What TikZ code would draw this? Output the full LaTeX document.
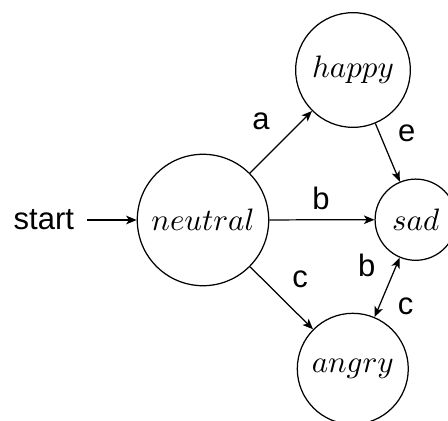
\documentclass[tikz,border=0pt]{standalone}
\usepackage{fontspec}
\setsansfont{Liberation Sans}
\usetikzlibrary{arrows.meta}
\tikzset{
  state/.style={draw, circle, line width=0.4pt, inner sep=0pt},
  lbl/.style={font=\sffamily, inner sep=0pt},
  trans/.style={-{Stealth[length=3.4pt,width=2.8pt,inset=0.9pt]}, line width=0.4pt},
  both/.style={{Stealth[length=3.4pt,width=2.8pt,inset=0.9pt]}-{Stealth[length=3.4pt,width=2.8pt,inset=0.9pt]}, line width=0.4pt}
}
\begin{document}
\begin{tikzpicture}[x=0.3226pt,y=-0.3226pt]
  \useasboundingbox (0,0) rectangle (448,421);
  \clip (0,0) rectangle (448,421);

  % states
  \node[state, minimum size=42.4pt] (neutral) at (203,220) {$neutral$};
  \node[state, minimum size=37.0pt] (happy)   at (353,70)  {$happy$};
  \node[state, minimum size=26.2pt] (sad)     at (415.7,219.7) {$sad$};
  \node[state, minimum size=35.8pt] (angry)   at (352.8,368.8) {$angry$};
  \node[font=\sffamily, inner sep=0pt] (start) at (43.8,220) {start};

  % transitions
  \path (start.east) ++(3.9pt,0) coordinate (s0);
  \draw[trans] (s0) -- (neutral);
  \draw[trans] (neutral) -- node[lbl, xshift=-6.45pt, yshift=6.55pt] {a} (happy);
  \draw[trans] (neutral) -- node[lbl, xshift=-0.3pt, yshift=6.8pt] {b} (sad);
  \draw[trans] (neutral) -- node[lbl, xshift=6.0pt, yshift=6.0pt] {c} (angry);
  \draw[trans] (happy) -- node[lbl, xshift=6.2pt, yshift=6.2pt] {e} (sad);
  \draw[both] (angry) -- node[lbl, xshift=-6.6pt, yshift=7.0pt] {b}
                         node[lbl, xshift=6.0pt, yshift=-6.2pt] {c} (sad);
\end{tikzpicture}
\end{document}
